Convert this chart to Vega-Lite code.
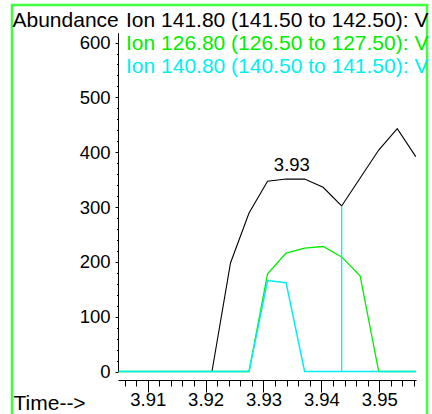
{
  "$schema": "https://vega.github.io/schema/vega-lite/v6.json",
  "width": 415,
  "height": 420,
  "autosize": {"type": "none"},
  "padding": {"left": 12, "top": 5, "right": 5, "bottom": 0},
  "background": "white",
  "config": {
    "font": "Liberation Sans",
    "view": {"stroke": "#40ff40", "strokeWidth": 2.5},
    "axis": {"grid": false, "domainColor": "black", "tickColor": "black", "labelColor": "black", "titleColor": "black", "labelFont": "Liberation Sans", "titleFont": "Liberation Sans", "titleFontWeight": "normal"}
  },
  "datasets": {
    "ions": [
      {"ion": "Ion 141.80 (141.50 to 142.50): V", "t": 3.9050, "a": 0},
      {"ion": "Ion 141.80 (141.50 to 142.50): V", "t": 3.9082, "a": 0},
      {"ion": "Ion 141.80 (141.50 to 142.50): V", "t": 3.9114, "a": 0},
      {"ion": "Ion 141.80 (141.50 to 142.50): V", "t": 3.9146, "a": 0},
      {"ion": "Ion 141.80 (141.50 to 142.50): V", "t": 3.9178, "a": 0},
      {"ion": "Ion 141.80 (141.50 to 142.50): V", "t": 3.9211, "a": 0},
      {"ion": "Ion 141.80 (141.50 to 142.50): V", "t": 3.9243, "a": 198},
      {"ion": "Ion 141.80 (141.50 to 142.50): V", "t": 3.9275, "a": 289},
      {"ion": "Ion 141.80 (141.50 to 142.50): V", "t": 3.9307, "a": 347},
      {"ion": "Ion 141.80 (141.50 to 142.50): V", "t": 3.9339, "a": 351},
      {"ion": "Ion 141.80 (141.50 to 142.50): V", "t": 3.9371, "a": 351},
      {"ion": "Ion 141.80 (141.50 to 142.50): V", "t": 3.9403, "a": 336},
      {"ion": "Ion 141.80 (141.50 to 142.50): V", "t": 3.9435, "a": 302},
      {"ion": "Ion 141.80 (141.50 to 142.50): V", "t": 3.9467, "a": 353},
      {"ion": "Ion 141.80 (141.50 to 142.50): V", "t": 3.9499, "a": 404},
      {"ion": "Ion 141.80 (141.50 to 142.50): V", "t": 3.9531, "a": 443},
      {"ion": "Ion 141.80 (141.50 to 142.50): V", "t": 3.9563, "a": 392},
      {"ion": "Ion 126.80 (126.50 to 127.50): V", "t": 3.9050, "a": 0},
      {"ion": "Ion 126.80 (126.50 to 127.50): V", "t": 3.9082, "a": 0},
      {"ion": "Ion 126.80 (126.50 to 127.50): V", "t": 3.9114, "a": 0},
      {"ion": "Ion 126.80 (126.50 to 127.50): V", "t": 3.9146, "a": 0},
      {"ion": "Ion 126.80 (126.50 to 127.50): V", "t": 3.9178, "a": 0},
      {"ion": "Ion 126.80 (126.50 to 127.50): V", "t": 3.9211, "a": 0},
      {"ion": "Ion 126.80 (126.50 to 127.50): V", "t": 3.9243, "a": 0},
      {"ion": "Ion 126.80 (126.50 to 127.50): V", "t": 3.9275, "a": 0},
      {"ion": "Ion 126.80 (126.50 to 127.50): V", "t": 3.9307, "a": 178},
      {"ion": "Ion 126.80 (126.50 to 127.50): V", "t": 3.9339, "a": 216},
      {"ion": "Ion 126.80 (126.50 to 127.50): V", "t": 3.9371, "a": 225},
      {"ion": "Ion 126.80 (126.50 to 127.50): V", "t": 3.9403, "a": 228},
      {"ion": "Ion 126.80 (126.50 to 127.50): V", "t": 3.9435, "a": 209},
      {"ion": "Ion 126.80 (126.50 to 127.50): V", "t": 3.9467, "a": 174},
      {"ion": "Ion 126.80 (126.50 to 127.50): V", "t": 3.9499, "a": 0},
      {"ion": "Ion 126.80 (126.50 to 127.50): V", "t": 3.9531, "a": 0},
      {"ion": "Ion 126.80 (126.50 to 127.50): V", "t": 3.9563, "a": 0},
      {"ion": "Ion 140.80 (140.50 to 141.50): V", "t": 3.9050, "a": 0},
      {"ion": "Ion 140.80 (140.50 to 141.50): V", "t": 3.9082, "a": 0},
      {"ion": "Ion 140.80 (140.50 to 141.50): V", "t": 3.9114, "a": 0},
      {"ion": "Ion 140.80 (140.50 to 141.50): V", "t": 3.9146, "a": 0},
      {"ion": "Ion 140.80 (140.50 to 141.50): V", "t": 3.9178, "a": 0},
      {"ion": "Ion 140.80 (140.50 to 141.50): V", "t": 3.9211, "a": 0},
      {"ion": "Ion 140.80 (140.50 to 141.50): V", "t": 3.9243, "a": 0},
      {"ion": "Ion 140.80 (140.50 to 141.50): V", "t": 3.9275, "a": 0},
      {"ion": "Ion 140.80 (140.50 to 141.50): V", "t": 3.9307, "a": 166},
      {"ion": "Ion 140.80 (140.50 to 141.50): V", "t": 3.9339, "a": 162},
      {"ion": "Ion 140.80 (140.50 to 141.50): V", "t": 3.9371, "a": 0},
      {"ion": "Ion 140.80 (140.50 to 141.50): V", "t": 3.9403, "a": 0},
      {"ion": "Ion 140.80 (140.50 to 141.50): V", "t": 3.9435, "a": 0},
      {"ion": "Ion 140.80 (140.50 to 141.50): V", "t": 3.9467, "a": 0},
      {"ion": "Ion 140.80 (140.50 to 141.50): V", "t": 3.9499, "a": 0},
      {"ion": "Ion 140.80 (140.50 to 141.50): V", "t": 3.9531, "a": 0},
      {"ion": "Ion 140.80 (140.50 to 141.50): V", "t": 3.9563, "a": 0}
    ],
    "marker": [{"t": 3.9435, "a": 0, "a2": 302}],
    "peak": [{"t": 3.9349, "a": 377, "label": "3.93"}]
  },
  "layer": [
    {
      "data": {"name": "ions"},
      "transform": [{"filter": {"field": "ion", "equal": "Ion 141.80 (141.50 to 142.50): V"}}],
      "mark": {"type": "line", "strokeWidth": 1.1, "clip": false},
      "encoding": {
        "x": {"field": "t", "type": "quantitative",
          "scale": {"domain": [3.90487, 3.95634], "range": [106, 404], "nice": false, "zero": false},
          "axis": {
            "title": "Time-->", "titleFontSize": 21, "titleAlign": "left", "titleBaseline": "alphabetic", "titleAnchor": "start", "titleX": 1, "titleY": 29, "titleAngle": 0,
            "offset": -45,
            "tickCount": 200,
            "values": [3.906, 3.908, 3.910, 3.912, 3.914, 3.916, 3.918, 3.920, 3.922, 3.924, 3.926, 3.928, 3.930, 3.932, 3.934, 3.936, 3.938, 3.940, 3.942, 3.944, 3.946, 3.948, 3.950, 3.952, 3.954, 3.956],
            "labelExpr": "round(datum.value*1000) % 10 == 0 ? format(datum.value, '.2f') : ''",
            "tickSize": {"condition": {"test": "round(datum.value*1000) % 10 == 0", "value": 12}, "value": 6},
            "labelFontSize": 18.5, "labelPadding": -2, "labelOverlap": false, "labelFlush": false, "labelBound": false,
            "tickWidth": 1, "domainWidth": 1
          }
        },
        "y": {"field": "a", "type": "quantitative",
          "scale": {"domain": [0, 618], "range": [366.5, 27.7], "nice": false, "zero": false},
          "axis": {
            "title": "Abundance", "titleFontSize": 21, "titleAngle": 0, "titleAlign": "left", "titleBaseline": "alphabetic", "titleX": -106, "titleY": 21,
            "offset": -106,
            "tickCount": 200,
            "values": [0, 20, 40, 60, 80, 100, 120, 140, 160, 180, 200, 220, 240, 260, 280, 300, 320, 340, 360, 380, 400, 420, 440, 460, 480, 500, 520, 540, 560, 580, 600],
            "labelExpr": "datum.value % 100 == 0 ? datum.label : ''",
            "tickSize": {"condition": {"test": "datum.value % 100 == 0", "value": 3}, "value": 1.5},
            "labelFontSize": 18.5, "labelPadding": 5, "labelOverlap": false, "labelFlush": false, "labelBound": false,
            "tickWidth": 1, "domainWidth": 1
          }
        },
        "color": {"field": "ion", "type": "nominal",
          "scale": {"domain": ["Ion 141.80 (141.50 to 142.50): V", "Ion 126.80 (126.50 to 127.50): V", "Ion 140.80 (140.50 to 141.50): V"], "range": ["#000000", "#00ee00", "#00f0f0"]},
          "legend": {
            "orient": "none", "legendX": 93, "legendY": 5, "title": null, "direction": "vertical",
            "symbolSize": 0, "symbolStrokeWidth": 0, "symbolOpacity": 0, "labelOffset": 0, "padding": 0,
            "labelFontSize": 21, "labelFont": "Liberation Sans", "rowPadding": 1, "labelLimit": 1000,
            "encode": {"labels": {"update": {"fill": {"scale": "color", "field": "value"}}}}
          }
        }
      }
    },
    {
      "data": {"name": "ions"},
      "transform": [{"filter": {"field": "ion", "equal": "Ion 126.80 (126.50 to 127.50): V"}}],
      "mark": {"type": "line", "strokeWidth": 1.3},
      "encoding": {
        "x": {"field": "t", "type": "quantitative"},
        "y": {"field": "a", "type": "quantitative"},
        "color": {"field": "ion", "type": "nominal"}
      }
    },
    {
      "data": {"name": "ions"},
      "transform": [{"filter": {"field": "ion", "equal": "Ion 140.80 (140.50 to 141.50): V"}}],
      "mark": {"type": "line", "strokeWidth": 1.5},
      "encoding": {
        "x": {"field": "t", "type": "quantitative"},
        "y": {"field": "a", "type": "quantitative"},
        "color": {"field": "ion", "type": "nominal"}
      }
    },
    {
      "data": {"name": "marker"},
      "mark": {"type": "rule", "color": "#00f0f0", "strokeWidth": 1.3},
      "encoding": {
        "x": {"field": "t", "type": "quantitative"},
        "y": {"field": "a", "type": "quantitative"},
        "y2": {"field": "a2"}
      }
    },
    {
      "data": {"name": "peak"},
      "mark": {"type": "text", "fontSize": 18.5, "font": "Liberation Sans", "color": "black", "baseline": "middle", "align": "center"},
      "encoding": {
        "x": {"field": "t", "type": "quantitative"},
        "y": {"field": "a", "type": "quantitative"},
        "text": {"field": "label"}
      }
    }
  ]
}
